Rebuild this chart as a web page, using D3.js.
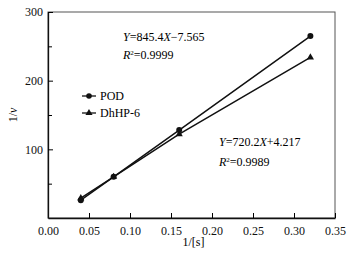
<!DOCTYPE html>
<html>
<head>
<meta charset="utf-8">
<script src="https://cdn.jsdelivr.net/npm/d3@7"></script>
<style>
  body { margin: 0; background: #fff; }
</style>
</head>
<body>
<div id="chart"></div>
<script>
// data
var xs = [0.04, 0.08, 0.16, 0.32];
var podValues = [26, 60, 128, 265];
var dhhpValues = [29, 60, 122, 234];
var xTicks = [0, 0.05, 0.10, 0.15, 0.20, 0.25, 0.30, 0.35];
var yTicks = [100, 200, 300];
var yMinor = [50, 150, 250];

var serif = "'Liberation Serif', 'Times New Roman', serif";

var width = 356, height = 253,
    margin = { top: 12, right: 21, bottom: 35, left: 48 };

var svg = d3.select("#chart").append("svg")
    .attr("width", width)
    .attr("height", height)
    .style("font-family", serif);

var x = d3.scaleLinear().domain([0, 0.35]).range([margin.left, width - margin.right]);
var y = d3.scaleLinear().domain([0, 300]).range([height - margin.bottom, margin.top]);

// frame
svg.append("rect")
    .attr("x", x(0)).attr("y", y(300))
    .attr("width", x(0.35) - x(0)).attr("height", y(0) - y(300))
    .attr("fill", "none").attr("stroke", "#555").attr("stroke-width", 1);

var xAxis = svg.append("g")
    .attr("transform", `translate(0,${y(0)})`)
    .call(d3.axisBottom(x).tickValues(xTicks).tickFormat(d3.format(".2f")).tickSizeInner(-5).tickSizeOuter(0).tickPadding(8));

var yAxis = svg.append("g")
    .attr("transform", `translate(${x(0)},0)`)
    .call(d3.axisLeft(y).tickValues(yTicks).tickSizeInner(-5).tickSizeOuter(0).tickPadding(5));

[xAxis, yAxis].forEach(g => {
    g.attr("font-family", null);
    g.selectAll("text").style("font-family", serif).style("font-size", "12px").attr("fill", "#111");
    g.select(".domain").attr("stroke", "#111").attr("stroke-width", 1.3);
});

svg.append("g")
    .attr("transform", `translate(${x(0)},0)`)
    .call(d3.axisLeft(y).tickValues(yMinor).tickSizeInner(-4).tickSizeOuter(0).tickFormat(""))
    .select(".domain").remove();

// axis titles
svg.append("text")
    .attr("x", x(0.175) + 2).attr("y", height - 7)
    .attr("text-anchor", "middle").style("font-size", "12px")
    .text("1/[s]");

var yt = svg.append("text")
    .attr("transform", `translate(17,${y(150)}) rotate(-90)`)
    .attr("text-anchor", "middle").style("font-size", "12px");
yt.append("tspan").text("1/");
yt.append("tspan").style("font-style", "italic").text("v");

var line = d3.line().x((d, i) => x(xs[i])).y(d => y(d));

svg.append("path").datum(dhhpValues)
    .attr("d", line).attr("fill", "none").attr("stroke", "#111").attr("stroke-width", 1.5);
svg.append("path").datum(podValues)
    .attr("d", line).attr("fill", "none").attr("stroke", "#111").attr("stroke-width", 1.5);

var tri = d3.symbol().type(d3.symbolTriangle).size(22);

svg.selectAll(".dh").data(dhhpValues).join("path")
    .attr("class", "dh")
    .attr("transform", (d, i) => `translate(${x(xs[i])},${y(d)})`)
    .attr("d", tri).attr("fill", "#111");

svg.selectAll(".pod").data(podValues).join("circle")
    .attr("class", "pod")
    .attr("cx", (d, i) => x(xs[i])).attr("cy", d => y(d))
    .attr("r", 3).attr("fill", "#111");

// legend
var legend = [
    { name: "POD", sym: "circle", ly: 96 },
    { name: "DhHP-6", sym: "tri", ly: 113 }
];
legend.forEach(l => {
    svg.append("line").attr("x1", 82).attr("x2", 96).attr("y1", l.ly).attr("y2", l.ly)
        .attr("stroke", "#111").attr("stroke-width", 1.3);
    if (l.sym === "circle") {
        svg.append("circle").attr("cx", 89).attr("cy", l.ly).attr("r", 2.8).attr("fill", "#111");
    } else {
        svg.append("path").attr("transform", `translate(89,${l.ly})`).attr("d", tri).attr("fill", "#111");
    }
    svg.append("text").attr("x", 100).attr("y", l.ly + 4)
        .style("font-size", "12px").text(l.name);
});

// equations
function eq(xp, yp, a, b) {
    var t = svg.append("text").attr("x", xp).attr("y", yp).style("font-size", "12px");
    t.append("tspan").style("font-style", "italic").text("Y");
    t.append("tspan").text("=" + a);
    t.append("tspan").style("font-style", "italic").text("X");
    t.append("tspan").text(b);
}
function r2(xp, yp, v) {
    var t = svg.append("text").attr("x", xp).attr("y", yp).style("font-size", "12px");
    t.append("tspan").style("font-style", "italic").text("R");
    t.append("tspan").attr("dy", -4).style("font-size", "7px").text("2");
    t.append("tspan").attr("dy", 4).text("=" + v);
}
eq(123, 41, "845.4", "\u22127.565");
r2(123, 59, "0.9999");
eq(219, 146, "720.2", "+4.217");
r2(219, 166, "0.9989");
</script>
</body>
</html>
